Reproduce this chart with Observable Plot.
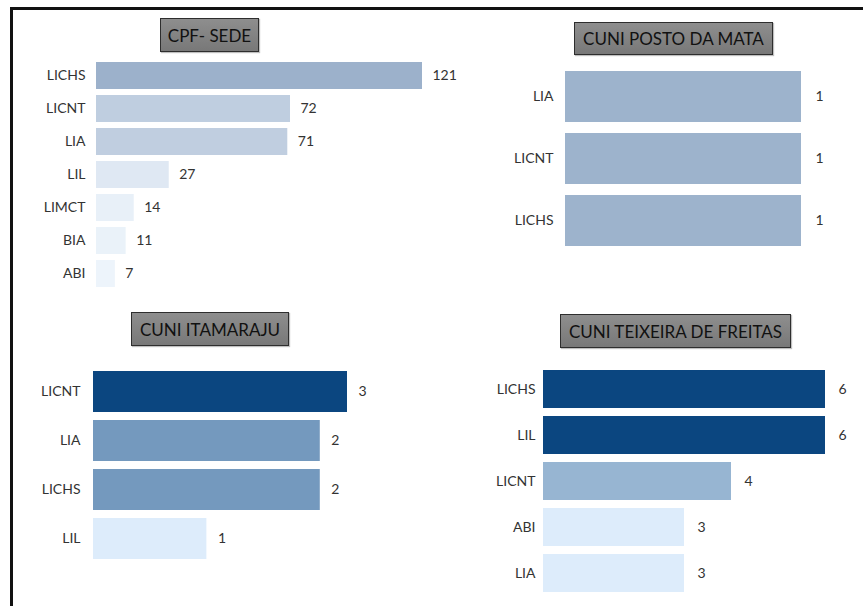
<!DOCTYPE html>
<html>
<head>
<meta charset="utf-8">
<script src="https://cdn.jsdelivr.net/npm/d3@7"></script>
<script src="https://cdn.jsdelivr.net/npm/@observablehq/plot@0.6"></script>
<style>
  body { margin: 0; background: #fff; }
  #chart { position: relative; width: 863px; height: 606px; overflow: hidden; background: #fff; font-family: Lato, sans-serif; }
  .frame { position: absolute; left: 10px; top: 7px; right: -10px; bottom: -10px; border-top: 3px solid #111; border-left: 3px solid #111; }
  .title { position: absolute; box-sizing: border-box; border: 1px solid #2e2e2e; background: linear-gradient(#8e8e8e, #787878); color: #111; font-size: 17px; display: flex; align-items: center; justify-content: center; box-shadow: 1px 1px 1px rgba(0,0,0,0.25); white-space: nowrap; }
  .panel { position: absolute; }
</style>
</head>
<body>
<div id="chart"><div class="frame"></div></div>
<script>
// ---- data ----
const panelTitles = ["CPF- SEDE", "CUNI POSTO DA MATA", "CUNI ITAMARAJU", "CUNI TEIXEIRA DE FREITAS"];

const sedeCats = ["LICHS", "LICNT", "LIA", "LIL", "LIMCT", "BIA", "ABI"];
const sedeVals = [121, 72, 71, 27, 14, 11, 7];

const postoCats = ["LIA", "LICNT", "LICHS"];
const postoVals = [1, 1, 1];

const itamarajuCats = ["LICNT", "LIA", "LICHS", "LIL"];
const itamarajuVals = [3, 2, 2, 1];

const teixeiraCats = ["LICHS", "LIL", "LICNT", "ABI", "LIA"];
const teixeiraVals = [6, 6, 4, 3, 3];

// ---- layout / style ----
const chart = document.getElementById("chart");

function addTitle(text, left, top, width, height) {
  const d = document.createElement("div");
  d.className = "title";
  d.textContent = text;
  Object.assign(d.style, {left: left + "px", top: top + "px", width: width + "px", height: height + "px"});
  chart.appendChild(d);
}

function panel(cfg) {
  const data = cfg.cats.map((c, i) => ({cat: c, val: cfg.vals[i]}));
  const svg = Plot.plot({
    width: cfg.w, height: cfg.h,
    marginLeft: cfg.ml, marginRight: cfg.mr, marginTop: cfg.mt, marginBottom: cfg.mb,
    x: {domain: cfg.xDomain, clamp: !!cfg.clamp, axis: null},
    y: {domain: cfg.cats, paddingInner: cfg.pi, paddingOuter: cfg.pi / 2, label: null},
    color: {type: "linear", domain: cfg.cDomain, range: cfg.cRange, interpolate: "rgb"},
    style: {fontFamily: "Lato, sans-serif", fontSize: "14px", color: "#333", background: "transparent", overflow: "visible"},
    marks: [
      Plot.barX(data, {x: "val", y: "cat", fill: "val"}),
      Plot.text(data, {x: "val", y: "cat", text: d => String(d.val), dx: cfg.dx, textAnchor: "start", fill: "#333", fontSize: 14}),
      Plot.axisY({tickSize: 0, tickPadding: cfg.tp, label: null, fontSize: 14})
    ]
  });
  const wrap = document.createElement("div");
  wrap.className = "panel";
  wrap.style.left = cfg.left + "px";
  wrap.style.top = cfg.top + "px";
  wrap.appendChild(svg);
  chart.appendChild(wrap);
}

panel({cats: sedeCats, vals: sedeVals, left: 0, top: 55, w: 480, h: 240,
  ml: 96, mr: 58, mt: 3, mb: 4, pi: 0.19, tp: 11, dx: 10,
  xDomain: [0, 121], cDomain: [7, 121], cRange: ["#edf4fb", "#9cb1cb"]});

panel({cats: postoCats, vals: postoVals, left: 480, top: 60, w: 383, h: 200,
  ml: 85, mr: 62, mt: 5, mb: 7.5, pi: 0.176, tp: 12, dx: 14,
  xDomain: [0, 1], cDomain: [0, 1], cRange: ["#ffffff", "#9db3cc"]});

panel({cats: itamarajuCats, vals: itamarajuVals, left: 0, top: 362, w: 480, h: 205,
  ml: 93, mr: 133, mt: 4, mb: 4, pi: 0.17, tp: 13, dx: 11,
  xDomain: [0, 2.24], clamp: true, cDomain: [1, 3], cRange: ["#ddecfb", "#0b4680"]});

panel({cats: teixeiraCats, vals: teixeiraVals, left: 480, top: 362, w: 383, h: 240,
  ml: 63, mr: 38, mt: 3, mb: 4.5, pi: 0.17, tp: 8, dx: 13,
  xDomain: [0, 6], cDomain: [3, 6], cRange: ["#ddecfb", "#0b4680"]});

addTitle(panelTitles[0], 160, 18, 99, 34);
addTitle(panelTitles[1], 574, 22, 199, 33);
addTitle(panelTitles[2], 131, 312, 158, 34);
addTitle(panelTitles[3], 560, 314, 231, 34);
</script>
</body>
</html>
